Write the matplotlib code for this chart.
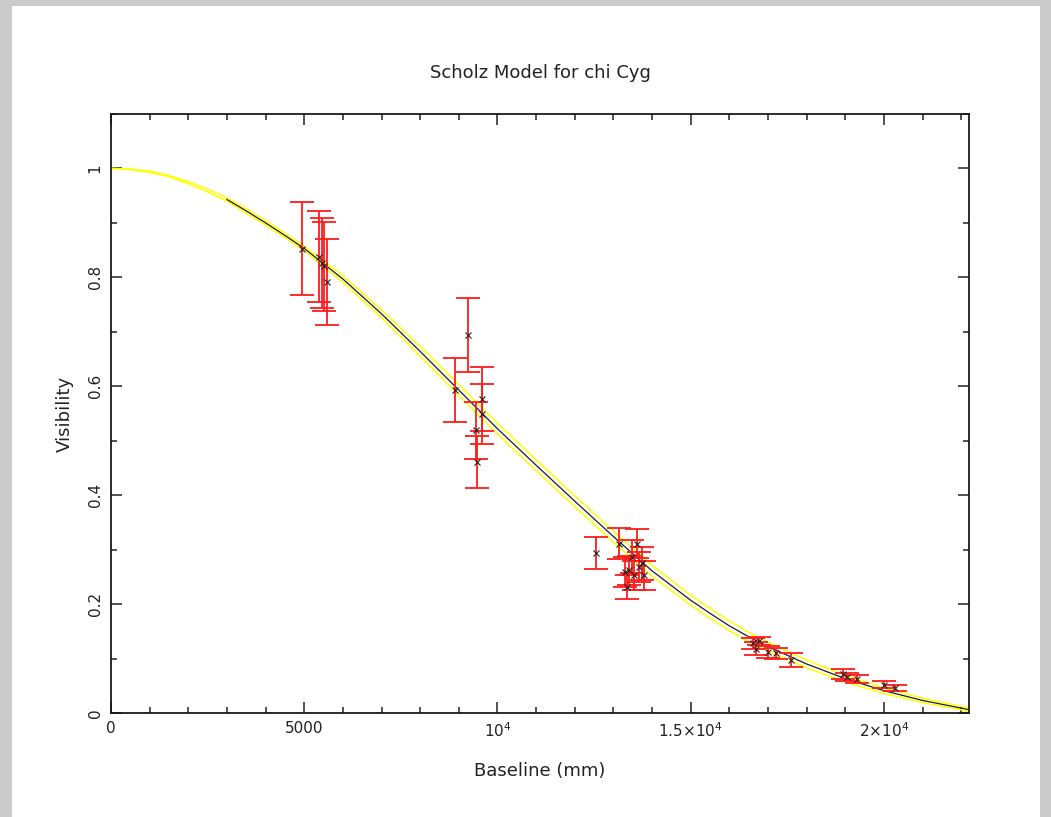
import numpy as np
import matplotlib.pyplot as plt
from matplotlib.ticker import FixedLocator, MultipleLocator
from matplotlib.patches import Rectangle

plt.rcParams['font.family'] = ['DejaVu Sans']
plt.rcParams['mathtext.default'] = 'regular'

# Model curve (baseline in mm, visibility)
model_b = [0, 500, 1000, 1500, 2000, 2500, 3000, 3500, 4000, 4500, 5000, 6000, 7000, 8000,
           9000, 10000, 11000, 12000, 13000, 14000, 15000, 15500, 16000, 16500, 17000, 18000,
           19000, 20000, 21000, 22000, 22200]
model_v = [1.000, 0.998, 0.994, 0.986, 0.974, 0.960, 0.943, 0.922, 0.900, 0.877, 0.853,
           0.797, 0.733, 0.664, 0.593, 0.522, 0.455, 0.389, 0.324, 0.261, 0.207, 0.183, 0.160,
           0.140, 0.122, 0.090, 0.063, 0.041, 0.023, 0.009, 0.006]
model_hi = [1.000, 0.999, 0.995, 0.987, 0.976, 0.962, 0.946, 0.926, 0.904, 0.881, 0.857,
            0.803, 0.740, 0.673, 0.603, 0.532, 0.465, 0.399, 0.334, 0.271, 0.216, 0.192, 0.169,
            0.148, 0.130, 0.097, 0.069, 0.046, 0.027, 0.012, 0.010]
model_lo = [1.000, 0.998, 0.993, 0.985, 0.972, 0.957, 0.940, 0.918, 0.896, 0.873, 0.849,
            0.791, 0.726, 0.655, 0.583, 0.512, 0.445, 0.379, 0.314, 0.251, 0.198, 0.174, 0.151,
            0.131, 0.114, 0.083, 0.057, 0.036, 0.019, 0.006, 0.002]

# Measured visibilities
obs_b = [4950, 5390, 5470, 5500, 5580,
         8890, 9240, 9450, 9460, 9590, 9610,
         12540, 13140, 13300, 13350, 13400, 13480, 13530, 13610, 13650, 13740, 13780,
         16620, 16700, 16760, 17000, 17200, 17600,
         18950, 19050, 19300, 20000, 20280]
obs_v = [0.853, 0.838, 0.826, 0.820, 0.791,
         0.593, 0.695, 0.519, 0.461, 0.577, 0.549,
         0.294, 0.311, 0.259, 0.231, 0.262, 0.287, 0.253, 0.311, 0.268, 0.275, 0.253,
         0.128, 0.118, 0.132, 0.112, 0.110, 0.097,
         0.072, 0.066, 0.062, 0.052, 0.046]
obs_err = [0.085, 0.083, 0.083, 0.081, 0.079,
           0.059, 0.068, 0.052, 0.047, 0.059, 0.055,
           0.029, 0.029, 0.028, 0.022, 0.027, 0.030, 0.027, 0.027, 0.028, 0.030, 0.027,
           0.010, 0.012, 0.008, 0.011, 0.010, 0.013,
           0.009, 0.008, 0.007, 0.006, 0.006]

fig = plt.figure(figsize=(10.51, 8.17), dpi=100, facecolor='#cbcbcb')
fig.patches.append(Rectangle((12 / 1051, 0), 1028 / 1051, 811 / 817, transform=fig.transFigure,
                             facecolor='white', edgecolor='none', zorder=-10))

ax = fig.add_axes([111 / 1051, 104 / 817, 858 / 1051, 599 / 817])
ax.set_zorder(1)
ax.set_facecolor('white')

ax.plot(model_b, model_hi, color='#ffff00', lw=1.1, zorder=2)
ax.plot(model_b, model_lo, color='#ffff00', lw=1.1, zorder=2)
mb = np.array(model_b)
mv = np.array(model_v)
sel = mb >= 3000
ax.plot(mb[sel], mv[sel], color='#1e1e1e', lw=0.9, zorder=3)

ax.errorbar(obs_b, obs_v, yerr=obs_err, fmt='none', ecolor='#ff1a1a', elinewidth=1.3,
            capsize=8.5, capthick=1.3, zorder=4)
ax.plot(obs_b, obs_v, 'x', color='#222222', ms=4, mew=0.8, zorder=5)

ax.set_xlim(0, 22200)
ax.set_ylim(0, 1.1)

ax.xaxis.set_major_locator(FixedLocator([0, 5000, 10000, 15000, 20000]))
ax.set_xticklabels(['0', '5000', r'$10^4$', '1.5×10$^4$', '2×10$^4$'])
ax.xaxis.set_minor_locator(MultipleLocator(1000))
ax.yaxis.set_major_locator(FixedLocator([0, 0.2, 0.4, 0.6, 0.8, 1.0]))
ax.set_yticklabels(['0', '0.2', '0.4', '0.6', '0.8', '1'], rotation=90, va='center')
ax.yaxis.set_minor_locator(MultipleLocator(0.1))

ax.tick_params(which='both', direction='in', top=True, right=True, colors='#222222',
               labelsize=11, width=1.1)
ax.tick_params(which='major', length=8, pad=6)
ax.tick_params(which='minor', length=4)
for s in ax.spines.values():
    s.set_linewidth(1.3)
    s.set_color('#1a1a1a')

ax.set_title('Scholz Model for chi Cyg', fontsize=13, color='#222222', pad=26)
ax.set_xlabel('Baseline (mm)', fontsize=13, color='#222222', labelpad=16)
ax.set_ylabel('Visibility', fontsize=13, color='#222222', labelpad=10)

fig.savefig('out.png', dpi=100, facecolor=fig.get_facecolor())
